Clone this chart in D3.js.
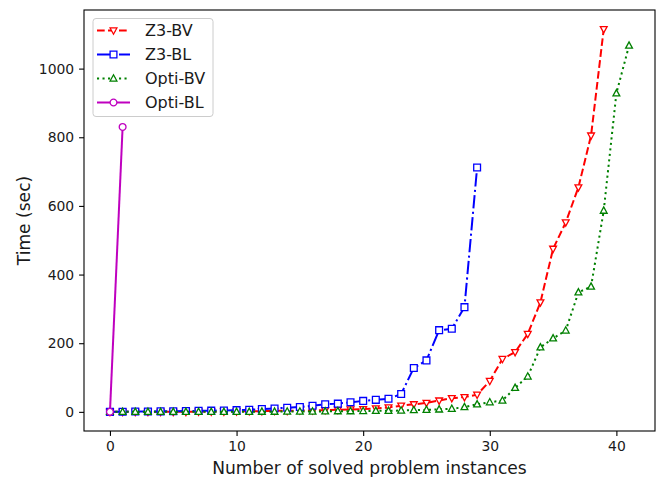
<!DOCTYPE html>
<html><head><meta charset="utf-8">
<script src="https://cdn.jsdelivr.net/npm/d3@7"></script>
<style>body{margin:0;background:#fff;} svg{display:block;} text{font-family:"DejaVu Sans",sans-serif;}</style>
</head><body>
<svg id="c" width="670" height="477"></svg>
<script>
const seriesNames = ["Z3-BV","Z3-BL","Opti-BV","Opti-BL"];
const z3bv = [0,0,0,0,0,0,0,0.5,1,1,1.5,2,2,3,3,4,4,5,6,7,8,10,13,18,22,26,33,40,43,50,90,154,174,227,319,475,552,654,805,1115];
const z3bl = [0,0.5,1,1,1.5,2,2.5,3,3.5,4,5,6,8,10,12,14,18,22,24,28,32,35,38,52,128,150,238,242,305,712];
const optibv = [0,0,0,0,0,0,0,0,0,0,0,0,0.5,0.5,1,1,1,1.5,2,2,2.5,3,3,4,5,6,7,9,14,22,28,33,70,103,188,214,237,348,365,586,928,1067];
const optibl = [0,830];
const xTicks = [0,10,20,30,40];
const yTicks = [0,200,400,600,800,1000];
const xLabel = "Number of solved problem instances";
const yLabel = "Time (sec)";

const svg = d3.select("#c");
const L=84,R=655,T=10,B=431;
const allData=[z3bv,z3bl,optibv,optibl];
const xmax=d3.max(allData,d=>d.length-1), ymax=d3.max(allData,d=>d3.max(d));
const x=d3.scaleLinear().domain([-0.05*xmax,1.05*xmax]).range([L,R]);
const y=d3.scaleLinear().domain([-0.05*ymax,1.05*ymax]).range([B,T]);

const styles=[
 {color:"#ff0000",dash:"7.7,3.3",marker:"tridown"},
 {color:"#0000ff",dash:"13.3,3.3,2.1,3.3",marker:"square"},
 {color:"#008000",dash:"2.1,3.4",marker:"triup"},
 {color:"#bf00bf",dash:null,marker:"circle"}
];
function markerPath(type){
  const s=3.4;
  if(type==="square") return `M${-s},${-s}H${s}V${s}H${-s}Z`;
  if(type==="tridown") return `M${-s},${-s*0.75}L${s},${-s*0.75}L0,${s*1.1}Z`;
  if(type==="triup") return `M${-s},${s*0.75}L${s},${s*0.75}L0,${-s*1.1}Z`;
  return d3.arc()({innerRadius:0,outerRadius:s,startAngle:0,endAngle:2*Math.PI});
}

const xAxis=svg.append("g").attr("transform",`translate(0,${B})`).call(d3.axisBottom(x).tickValues(xTicks).tickSize(4.9).tickPadding(4.9).tickFormat(d3.format("d")));
const yAxis=svg.append("g").attr("transform",`translate(${L},0)`).call(d3.axisLeft(y).tickValues(yTicks).tickSize(4.9).tickPadding(4.9).tickFormat(d3.format("d")));
[xAxis,yAxis].forEach(a=>{a.select(".domain").remove();a.selectAll("line").attr("stroke","#000").attr("stroke-width",1.1);
 a.selectAll("text").attr("font-size","13.9px").attr("fill","#1a1a1a").attr("font-family","DejaVu Sans");});
svg.append("rect").attr("x",L).attr("y",T).attr("width",R-L).attr("height",B-T).attr("fill","none").attr("stroke","#000").attr("stroke-width",1.1);

const line=d3.line().x((d,i)=>x(i)).y(d=>y(d));
allData.forEach((data,k)=>{
  const st=styles[k];
  const g=svg.append("g");
  g.append("path").attr("d",line(data)).attr("fill","none").attr("stroke",st.color).attr("stroke-width",2)
   .attr("stroke-dasharray",st.dash);
  g.selectAll("path.m").data(data).enter().append("path").attr("class","m")
   .attr("transform",(d,i)=>`translate(${x(i)},${y(d)})`).attr("d",markerPath(st.marker))
   .attr("fill","#fff").attr("stroke",st.color).attr("stroke-width",1.3);
});

svg.append("text").attr("x",(L+R)/2).attr("y",474).attr("text-anchor","middle").attr("font-size","17.1px").attr("fill","#1a1a1a").text(xLabel);
svg.append("text").attr("transform",`translate(29.5,${(T+B)/2}) rotate(-90)`).attr("text-anchor","middle").attr("font-size","17.1px").attr("fill","#1a1a1a").text(yLabel);

const lg=svg.append("g");
lg.append("rect").attr("x",93).attr("y",18.5).attr("width",120).attr("height",98).attr("rx",3).attr("fill","#fff").attr("fill-opacity",0.8).attr("stroke","#ccc").attr("stroke-width",1);
seriesNames.forEach((n,k)=>{
  const st=styles[k], yy=30.5+k*24;
  lg.append("line").attr("x1",97).attr("x2",130).attr("y1",yy).attr("y2",yy).attr("stroke",st.color).attr("stroke-width",2).attr("stroke-dasharray",st.dash);
  lg.append("path").attr("transform",`translate(113.5,${yy})`).attr("d",markerPath(st.marker)).attr("fill","#fff").attr("stroke",st.color).attr("stroke-width",1.3);
  lg.append("text").attr("x",145).attr("y",yy+5.8).attr("font-size","16px").attr("fill","#1a1a1a").text(n);
});
</script>
</body></html>
